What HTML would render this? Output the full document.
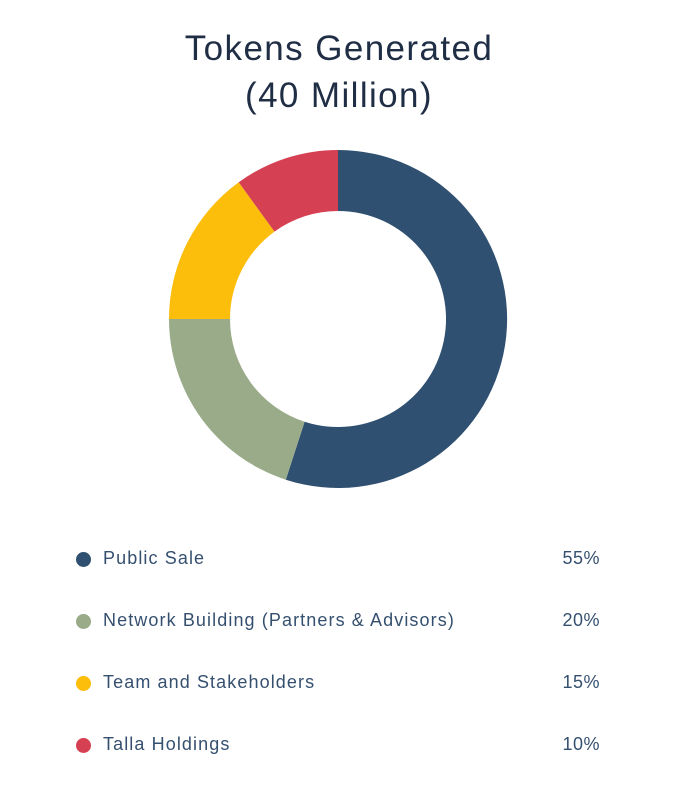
<!DOCTYPE html>
<html><head><meta charset="utf-8"><style>
body{margin:0;width:678px;height:806px;background:#fff;font-family:"Liberation Sans",sans-serif;color:#2b3e5a;position:relative;overflow:hidden}
.t{position:absolute;left:0;width:678px;text-align:center;font-size:35px;color:#1f2d45;letter-spacing:1.4px}
.row{position:absolute;left:76px;width:524px;height:24px;font-size:18px;color:#35506f;letter-spacing:1.1px}
.dot{position:absolute;left:0;top:4px;width:15px;height:15px;border-radius:50%}
.lab{position:absolute;left:27px;top:0}
.pct{position:absolute;right:0;top:0;letter-spacing:0.5px}
</style></head><body>
<div class="t" style="top:29px">Tokens Generated</div>
<div class="t" style="top:76px">(40 Million)</div>
<svg width="678" height="806" style="position:absolute;left:0;top:0">
<g transform="translate(338,319)">
<path d="M0,-169 A169,169 0 1 1 -52.2,160.7 L-33.4,102.7 A108,108 0 1 0 0,-108 Z" fill="#2f5070"/>
<path d="M-52.2,160.7 A169,169 0 0 1 -169,0 L-108,0 A108,108 0 0 0 -33.4,102.7 Z" fill="#9aab89"/>
<path d="M-169,0 A169,169 0 0 1 -99.3,-136.7 L-63.5,-87.4 A108,108 0 0 0 -108,0 Z" fill="#fcbd0b"/>
<path d="M-99.3,-136.7 A169,169 0 0 1 0,-169 L0,-108 A108,108 0 0 0 -63.5,-87.4 Z" fill="#d64053"/>
</g></svg>
<div class="row" style="top:548px"><div class="dot" style="background:#2f5070"></div><span class="lab">Public Sale</span><span class="pct">55%</span></div>
<div class="row" style="top:610px"><div class="dot" style="background:#9aab89"></div><span class="lab">Network Building (Partners &amp; Advisors)</span><span class="pct">20%</span></div>
<div class="row" style="top:672px"><div class="dot" style="background:#fcbd0b"></div><span class="lab">Team and Stakeholders</span><span class="pct">15%</span></div>
<div class="row" style="top:734px"><div class="dot" style="background:#d64053"></div><span class="lab">Talla Holdings</span><span class="pct">10%</span></div>
</body></html>
